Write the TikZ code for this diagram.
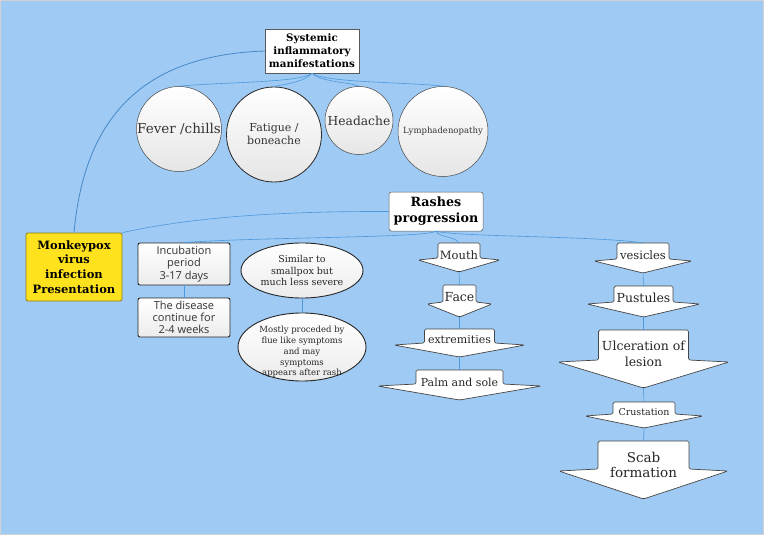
\documentclass[tikz,border=0pt]{standalone}
\usepackage{fontspec}
\setmainfont{DejaVu Serif}
\newfontfamily\sansf{Open Sans}
\usetikzlibrary{shapes.geometric}
\definecolor{bg}{RGB}{158,202,244}
\definecolor{conncol}{RGB}{78,152,220}
\definecolor{mpy}{RGB}{255,226,30}
\definecolor{mpyb}{RGB}{150,125,20}
\definecolor{edge}{RGB}{70,70,70}
\newcommand\fs[2]{\fontsize{#1}{#2}\selectfont}
% #1 name, #2 cx, #3 body half width, #4 top, #5 shoulder, #6 head half width, #7 tip
\newcommand\mmarrow[7]{%
  \draw[arrowshape] ({#2-#3},#5) -- ({#2-#3},#4) -- ({#2+#3},#4) -- ({#2+#3},#5)
     -- ({#2+#6},{#5+2}) -- (#2,#7) -- ({#2-#6},{#5+2}) -- cycle;
  \coordinate (#1-n) at (#2,#4);
  \coordinate (#1-s) at (#2,#7);
}
\begin{document}
\begin{tikzpicture}[x=1pt,y=-1pt,
  conn/.style={draw=conncol, line width=0.6pt},
  connstrong/.style={draw=conncol!90!black, line width=0.8pt},
  circ/.style={circle, draw=edge, line width=0.5pt, top color=white, bottom color=gray!20, inner sep=0pt, align=center, text=black!80},
  whitebox/.style={rectangle, draw=gray!70!black, fill=white, line width=0.5pt, inner sep=0pt, align=center},
  gradbox/.style={rectangle, rounded corners=2pt, draw=black!85, line width=0.9pt, top color=white, bottom color=gray!15, inner sep=0pt, align=center, text=black!80},
  ellbox/.style={ellipse, draw=black!85, line width=0.9pt, top color=white, bottom color=gray!15, inner sep=0pt, align=center, text=black!85},
  arrowshape/.style={draw=edge, fill=white, line width=0.7pt, rounded corners=1.5pt},
  arrowtext/.style={inner sep=0pt, align=center, text=black!85}
]
\fill[bg] (0,0) rectangle (764,535);
\draw[gray!35, line width=1.2pt] (0.6,0.6) rectangle (763.4,534.4);
\useasboundingbox (0,0) rectangle (764,535);

% top group
\node[whitebox, minimum width=94, minimum height=44, font={\bfseries\fs{10.3}{13}}] (sys) at (312,51) {Systemic\\inflammatory\\manifestations};
\node[circ, minimum size=85, font={\fs{13.5}{16}}] (fever) at (179,129) {Fever /chills};
\node[circ, minimum size=95, line width=0.8pt, draw=black!85, font={\fs{11}{13}}] (fatigue) at (274,134.5) {Fatigue /\\boneache};
\node[circ, minimum size=68, font={\fs{12.3}{16}}] (head) at (359,120.5) {Headache};
\node[circ, minimum size=90, font={\fs{8.5}{10}}] (lymph) at (443,131.5) {Lymphadenopathy};

% main
\node[rectangle, rounded corners=2pt, draw=mpyb, fill=mpy, line width=0.8pt, minimum width=96, minimum height=68, inner sep=0pt, align=center, font={\bfseries\fs{11.5}{14.7}}] (mp) at (74,267) {Monkeypox\\virus\\infection\\Presentation};
\node[whitebox, rounded corners=2.5pt, minimum width=94, minimum height=39, font={\bfseries\fs{12.7}{16}}] (rash) at (436,211.5) {Rashes\\progression};

\node[gradbox, minimum width=92, minimum height=42, font={\sansf\fs{11}{12.6}}] (inc) at (184,264) {Incubation\\period\\ 3-17 days};
\node[gradbox, minimum width=92, minimum height=39, font={\sansf\fs{11}{12.2}}] (dis) at (184,317.5) {The disease\\continue for\\ 2-4 weeks};
\node[ellbox, minimum width=122, minimum height=55, font={\fs{9.5}{11.5}}] (sim) at (302,270.5) {Similar to\\ smallpox but\\much less severe};
\node[ellbox, minimum width=128, minimum height=68] (most) at (302,347) {};
\node[inner sep=0pt, align=center, text=black!85, font={\fs{8.5}{10.7}}] (mosttext) at (302,352) {Mostly proceded by\\flue like symptoms\\and may\\symptoms\\appears after rash};

% connectors
\draw[connstrong] (mp.north) .. controls (85,110) and (150,55) .. (sys.west);
\draw[conn] (mp.north east) .. controls (180,220) and (260,211) .. (rash.west);
\draw[conn] (sys.south) .. controls (300,83) and (220,82) .. (fever.north);
\draw[conn] (sys.south) .. controls (305,82) and (285,84) .. (fatigue.north);
\draw[conn] (sys.south) .. controls (320,82) and (350,82) .. (head.north);
\draw[conn] (sys.south) .. controls (325,83) and (410,82) .. (lymph.north);
\draw[conn] (rash.south) .. controls (425,238) and (260,237) .. (inc.north);
\draw[conn] (inc.south) -- (dis.north);
\draw[conn] (sim.south) -- (most.north);

% arrows left column
\mmarrow{mouth}{459}{21}{243}{258}{41}{272}
\mmarrow{face}{459.5}{16.5}{285}{302}{32.5}{317}
\mmarrow{extr}{459.5}{35}{329}{343}{65.5}{357}
\mmarrow{palm}{459.5}{43.5}{370}{384}{82}{400}
% arrows right column
\mmarrow{ves}{643}{26}{243}{259}{49}{273}
\mmarrow{pus}{643.5}{29.5}{286}{302}{56.5}{317}
\mmarrow{ulc}{643.5}{45}{330}{360}{85.5}{388}
\mmarrow{crus}{644}{31}{402}{414}{59}{428}
\mmarrow{scab}{643.5}{45.5}{441}{469}{84.5}{499}

\node[arrowtext, font={\fs{11.5}{14}}] (mouth) at (459,255) {Mouth};
\node[arrowtext, font={\fs{12.5}{15}}] (face) at (459.5,297) {Face};
\node[arrowtext, font={\fs{11}{14}}] (extr) at (459.5,340) {extremities};
\node[arrowtext, font={\fs{11}{14}}] (palm) at (459.5,382) {Palm and sole};
\node[arrowtext, font={\fs{11.5}{14}}] (ves) at (643,255) {vesicles};
\node[arrowtext, font={\fs{12.5}{15}}] (pus) at (643.5,298) {Pustules};
\node[arrowtext, font={\fs{12.5}{15.5}}] (ulc) at (643.5,354) {Ulceration of\\lesion};
\node[arrowtext, font={\fs{9.5}{12}}] (crus) at (644,412) {Crustation};
\node[arrowtext, font={\fs{13.5}{15.5}}] (scab) at (643.5,465) {Scab\\formation};

\draw[conn] (rash.south) .. controls (440,238) and (455,236) .. (mouth-n);
\draw[conn] (rash.south) .. controls (460,237) and (600,236) .. (ves-n);
\draw[conn] (mouth-s) -- (face-n);
\draw[conn] (face-s) -- (extr-n);
\draw[conn] (extr-s) -- (palm-n);
\draw[conn] (ves-s) -- (pus-n);
\draw[conn] (pus-s) -- (ulc-n);
\draw[conn] (ulc-s) -- (crus-n);
\draw[conn] (crus-s) -- (scab-n);
\end{tikzpicture}
\end{document}
